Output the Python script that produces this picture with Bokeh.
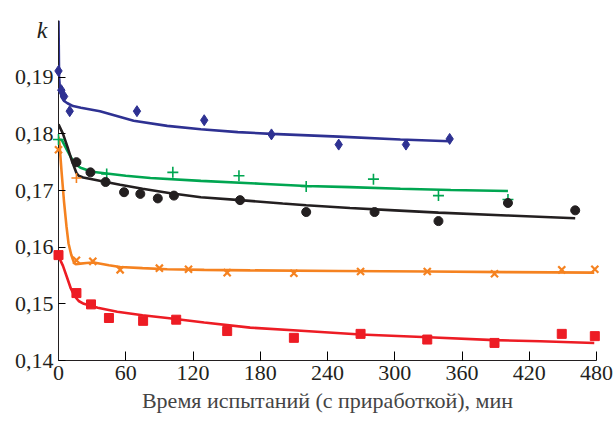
from bokeh.plotting import figure
from bokeh.models import FixedTicker, CustomJSTickFormatter, Range1d
from bokeh.core.properties import value
from bokeh.embed import file_html
from bokeh.resources import INLINE

# ---- data ----
x_ticks = [0, 60, 120, 180, 240, 300, 360, 420, 480]
y_ticks = [0.14, 0.15, 0.16, 0.17, 0.18, 0.19]

# series 1 (blue diamonds)
t1 = [0, 2.5, 5, 10, 70, 130, 190, 250, 310, 349]
k1 = [0.1911, 0.1877, 0.1866, 0.1840, 0.1840, 0.1824, 0.1799, 0.1781, 0.1781, 0.1791]
c1_t = [0, 0.5, 1.5, 3, 5, 8, 13, 20, 37, 67, 97, 127, 160, 190, 250, 305, 349]
c1_k = [0.2000, 0.1900, 0.1875, 0.1864, 0.1858, 0.1854, 0.1849, 0.1846, 0.1840, 0.1823,
        0.1814, 0.1808, 0.1803, 0.1800, 0.1795, 0.1790, 0.1787]

# series 2 (green crosses)
t2 = [0, 43, 102, 161, 221, 281, 339, 401]
k2 = [0.1790, 0.1729, 0.1732, 0.1726, 0.1707, 0.1720, 0.1691, 0.1684]
c2_t = [0, 3, 8, 13.7, 19.6, 30, 43, 60, 82, 127, 180, 221, 260, 305, 350, 401]
c2_k = [0.1790, 0.1789, 0.1770, 0.1749, 0.1740, 0.1733, 0.1730, 0.1726, 0.1722, 0.1717,
        0.1712, 0.1708, 0.1706, 0.1703, 0.1701, 0.1699]

# series 3 (black circles)
t3 = [16, 28.5, 42, 58.5, 73, 88.6, 103, 162, 221, 282, 339, 401, 461]
k3 = [0.1750, 0.1732, 0.1715, 0.1697, 0.1694, 0.1686, 0.1691, 0.1683, 0.1662, 0.1662,
      0.1646, 0.1678, 0.1665]
c3_t = [0, 4, 8, 12, 16, 18, 22, 30, 40, 55, 75, 100, 127, 162, 200, 221, 260, 300, 339, 400, 461]
c3_k = [0.1817, 0.1800, 0.1777, 0.1752, 0.1731, 0.1726, 0.1723, 0.1720, 0.1716, 0.1710,
        0.1703, 0.1695, 0.1688, 0.1683, 0.1677, 0.1674, 0.1669, 0.1665, 0.1661, 0.1656, 0.1651]

# series 4 (orange x)
t4 = [0, 16, 30.6, 55, 90, 116, 150.5, 210, 269.5, 329, 389, 449, 478.5]
k4 = [0.1772, 0.1577, 0.1575, 0.1560, 0.1563, 0.1561, 0.1555, 0.1554, 0.1557, 0.1557,
      0.1553, 0.1560, 0.1561]
t4_extra = [16]
k4_extra = [0.1722]
c4_t = [0, 0.9, 2.7, 4.9, 7.1, 8.9, 11.3, 13.4, 15.2, 19.6, 25, 31.5, 45, 55, 75, 97,
        130, 171, 250, 330, 400, 478]
c4_k = [0.1795, 0.1782, 0.1734, 0.1681, 0.1637, 0.1607, 0.1587, 0.1575, 0.1570, 0.1571,
        0.1572, 0.1573, 0.1568, 0.1565, 0.1563, 0.1561, 0.1560, 0.1559, 0.1558, 0.1557,
        0.1556, 0.1555]

# series 5 (red squares)
t5 = [0, 16, 29, 45, 75.5, 105, 150.5, 210, 269.5, 329, 389, 449, 478.5]
k5 = [0.1586, 0.1519, 0.1499, 0.1475, 0.1470, 0.1472, 0.1452, 0.1440, 0.1447, 0.1437,
      0.1431, 0.1447, 0.1443]
c5_t = [0, 4, 7.7, 11, 14.3, 18, 22.6, 35, 52.4, 75, 97, 130, 171, 220, 269.5, 330, 389, 430, 478]
c5_k = [0.1584, 0.1567, 0.1546, 0.1527, 0.1514, 0.1505, 0.1500, 0.1493, 0.1486, 0.1480,
        0.1475, 0.1467, 0.1458, 0.1452, 0.1446, 0.1441, 0.1436, 0.1434, 0.1431]

x_title = "Время испытаний (с приработкой), мин"
y_title = ["k"]
y_title_x = [0]
y_title_y = [0.20]

BLUE = "#2e3192"
GREEN = "#00a651"
BLACK = "#231f20"
ORANGE = "#f58220"
RED = "#ed1c24"
FONT = "Liberation Serif"

p = figure(width=613, height=421, output_backend="svg", toolbar_location=None,
           x_range=Range1d(0, 480), y_range=Range1d(0.14, 0.20),
           min_border_left=58, min_border_right=17, min_border_top=20, min_border_bottom=61)
p.outline_line_color = None
p.grid.visible = False

p.xaxis.ticker = FixedTicker(ticks=x_ticks)
p.yaxis.ticker = FixedTicker(ticks=y_ticks)
p.xaxis.major_label_text_font_size = "22px"
p.yaxis.major_label_text_font_size = "22px"
p.xaxis[0].major_label_text_font = FONT
p.yaxis[0].major_label_text_font = FONT
p.xaxis.axis_label = x_title
p.xaxis.axis_label_text_font = FONT
p.xaxis.axis_label_text_font_size = "22px"
p.xaxis.axis_label_text_font_style = "normal"
p.yaxis.formatter = CustomJSTickFormatter(code="return tick.toFixed(2).replace('.', ',');")

for ax in (p.xaxis[0], p.yaxis[0]):
    ax.axis_line_color = BLACK
    ax.major_tick_out = 0
    ax.minor_tick_line_color = None
    ax.major_label_text_color = BLACK
p.xaxis.major_tick_in = 9
p.yaxis.major_tick_in = 7

# curves at the normal glyph level
LW = 2.6
p.line(c1_t, c1_k, line_color=BLUE, line_width=LW)
p.line(c2_t, c2_k, line_color=GREEN, line_width=LW)
p.line(c3_t, c3_k, line_color=BLACK, line_width=LW)
p.line(c4_t, c4_k, line_color=ORANGE, line_width=LW)
p.line(c5_t, c5_k, line_color=RED, line_width=LW)

# markers drawn unclipped so the ones on the axes stay whole
p.scatter(t1, k1, marker="diamond", size=11, fill_color=BLUE, line_color=BLUE, level="overlay")
p.scatter(t2, k2, marker="cross", size=11, line_color=GREEN, line_width=1.6, level="overlay")
p.scatter(t3, k3, marker="circle", size=9, fill_color=BLACK, line_color=BLACK, level="overlay")
p.scatter(t4, k4, marker="x", size=10, line_color=ORANGE, line_width=2.2, level="overlay")
p.scatter(t4_extra, k4_extra, marker="cross", size=10, line_color=ORANGE, line_width=1.6, level="overlay")
p.scatter(t5, k5, marker="square", size=9, fill_color=RED, line_color=RED, level="overlay")

p.text(y_title_x, y_title_y, text=y_title, x_offset=-11, y_offset=9, text_align="right",
       text_baseline="alphabetic", text_font=value(FONT), text_font_size="24px",
       text_font_style="italic", text_color=BLACK, level="overlay")

open("out.html", "w").write(file_html(p, INLINE))
